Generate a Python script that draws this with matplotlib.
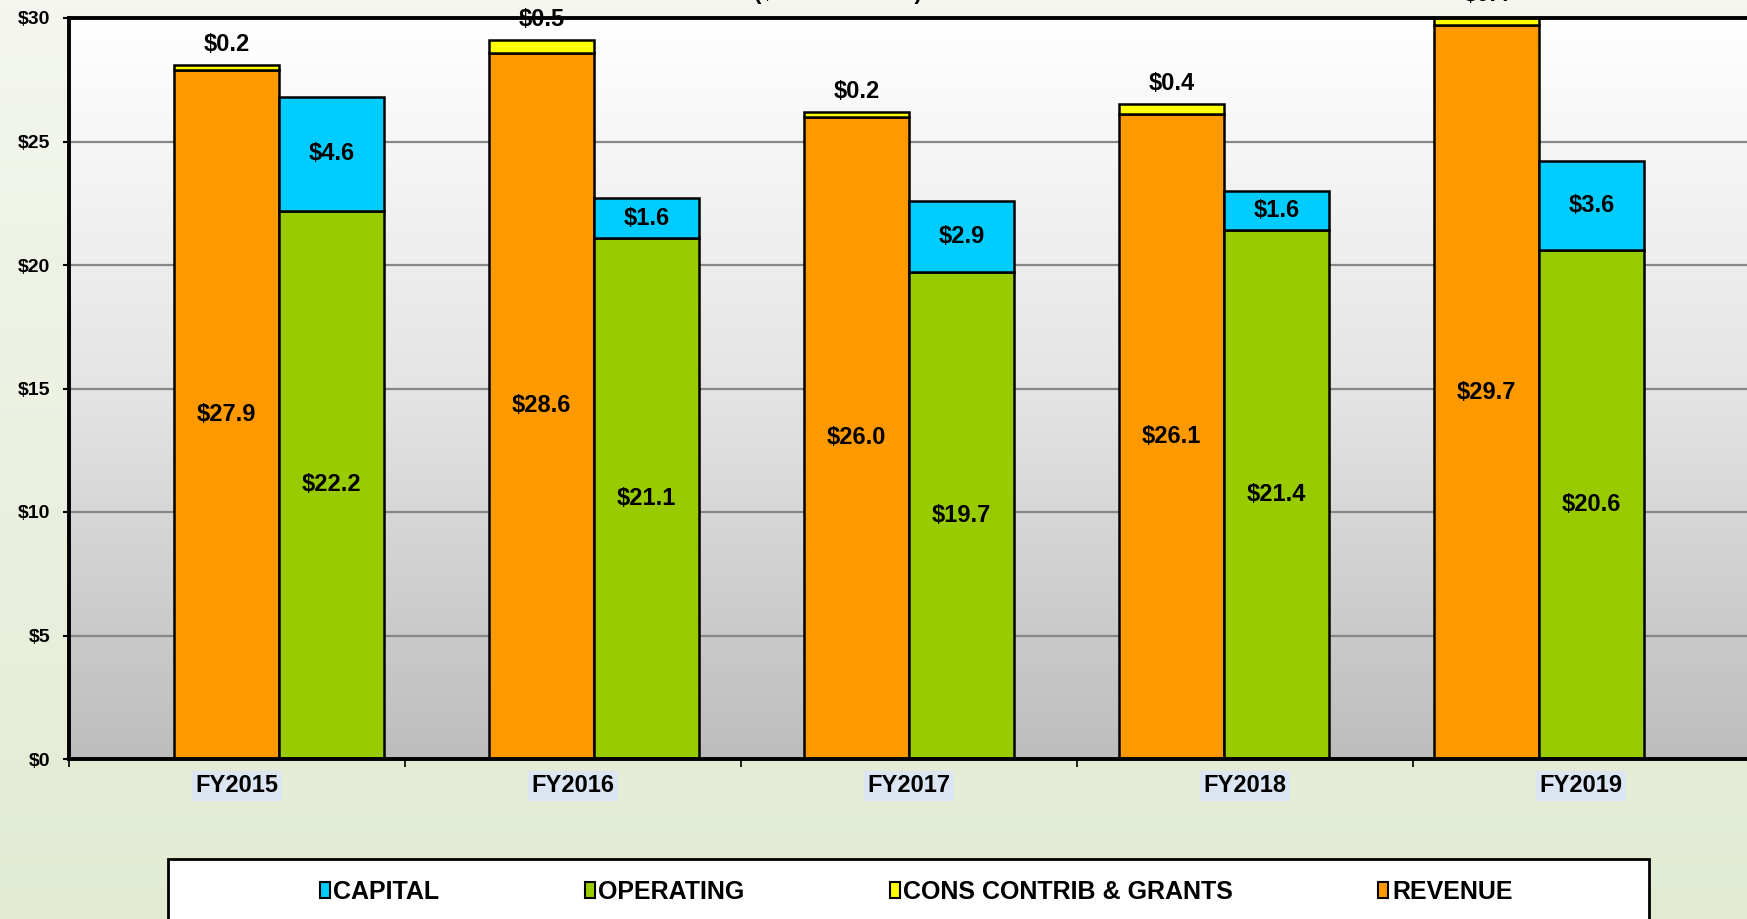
import numpy as np
import matplotlib.pyplot as plt
from matplotlib.patches import Patch, Rectangle
from matplotlib.colors import LinearSegmentedColormap

years = ['FY2015', 'FY2016', 'FY2017', 'FY2018', 'FY2019']
revenue = [27.9, 28.6, 26.0, 26.1, 29.7]
cons_contrib = [0.2, 0.5, 0.2, 0.4, 0.4]
operating = [22.2, 21.1, 19.7, 21.4, 20.6]
capital = [4.6, 1.6, 2.9, 1.6, 3.6]
y_ticks = [0, 5, 10, 15, 20, 25, 30]

ORANGE = '#FF9900'
YELLOW = '#FFFF00'
GREEN = '#99CC00'
CYAN = '#00CCFF'

plt.rcParams['font.family'] = ['Liberation Sans', 'DejaVu Sans']
plt.rcParams['font.weight'] = 'bold'

W, H = 1747, 919
fig = plt.figure(figsize=(W / 100, H / 100), dpi=100)

# pale green page background
bg = fig.add_axes([0, 0, 1, 1], zorder=-10)
bg.axis('off')
bg_cmap = LinearSegmentedColormap.from_list('page', ['#E2EBD2', '#F4F6EF'])
bg.imshow(np.linspace(0, 1, 256).reshape(-1, 1), cmap=bg_cmap, aspect='auto',
          origin='lower', extent=[0, 1, 0, 1])

left, top, bottom = 69, 18, 759
ax = fig.add_axes([left / W, 1 - bottom / H, (1749 - left) / W, (bottom - top) / H])
ax.set_facecolor('none')

# plot area fades from white at the top to grey at the bottom
grad = np.linspace(0, 1, 256).reshape(-1, 1)
area_cmap = LinearSegmentedColormap.from_list('area', ['#BDBDBD', '#E4E4E4', '#FFFFFF'])
ax.imshow(grad, cmap=area_cmap, aspect='auto', origin='lower', extent=[0, 1, 0, 1],
          transform=ax.transAxes, zorder=-1)

ax.set_axisbelow(True)
ax.yaxis.grid(True, color='#878787', lw=1.6)

# each category is 16 units wide, the column pairs repeat every 15
x = np.arange(len(years))
slot = 5
period = 15
rev_x = slot + period * x
ops_x = rev_x + slot
edge = dict(edgecolor='black', linewidth=1.8, align='edge', width=slot)

ax.bar(rev_x, revenue, color=ORANGE, **edge)
ax.bar(rev_x, cons_contrib, bottom=revenue, color=YELLOW, **edge)
ax.bar(ops_x, operating, color=GREEN, **edge)
ax.bar(ops_x, capital, bottom=operating, color=CYAN, **edge)

for i in range(len(years)):
    cx = rev_x[i] + slot / 2
    ax.text(cx, revenue[i] / 2, f'${revenue[i]:.1f}', ha='center', va='center', fontsize=17)
    ax.annotate(f'${cons_contrib[i]:.1f}', (cx, revenue[i] + cons_contrib[i]),
                xytext=(0, 15), textcoords='offset points', ha='center', va='center',
                fontsize=17, annotation_clip=False)
    ox = ops_x[i] + slot / 2
    ax.text(ox, operating[i] / 2, f'${operating[i]:.1f}', ha='center', va='center', fontsize=17)
    ax.text(ox, operating[i] + capital[i] / 2, f'${capital[i]:.1f}',
            ha='center', va='center', fontsize=17)

ax.set_xlim(0, 16 * len(years))
ax.set_ylim(0, 30)

ax.set_yticks(y_ticks)
ax.set_yticklabels([f'${v}' for v in y_ticks])
ax.tick_params(axis='y', direction='out', length=4.5, width=1.5, labelsize=14, pad=9)

ax.set_xticks(np.arange(0, 16 * len(years) + 1, 16))
ax.set_xticklabels([])
ax.set_xticks(8 + 16 * x, minor=True)
ax.set_xticklabels(years, minor=True)
ax.tick_params(axis='x', which='major', direction='out', length=6, width=1.2)
ax.tick_params(axis='x', which='minor', length=0, labelsize=17, pad=11)
for lbl in ax.get_xticklabels(minor=True):
    lbl.set_bbox(dict(boxstyle='square,pad=0.15', facecolor='#DCE6F2', edgecolor='none'))

for side in ['left', 'bottom', 'top']:
    ax.spines[side].set_linewidth(2.8)
    ax.spines[side].set_color('black')
ax.spines['right'].set_visible(False)

fig.text(838 / W, 1 + 1 / H, '($ IN MILLIONS)', ha='center', va='baseline', fontsize=16)

# legend box running off the bottom of the page
fig.add_artist(Rectangle((168 / W, -0.1), (1649 - 168) / W, 0.1 + 1 - 859 / H,
                         transform=fig.transFigure, facecolor='white',
                         edgecolor='black', linewidth=2))
handles = [Patch(facecolor=c, edgecolor='black', linewidth=1.5)
           for c in [CYAN, GREEN, YELLOW, ORANGE]]
names = ['CAPITAL', 'OPERATING', 'CONS CONTRIB & GRANTS', 'REVENUE']
fig.legend(handles, names, loc='center', bbox_to_anchor=(916 / W, 1 - 892 / H),
           ncol=4, frameon=False, fontsize=18, columnspacing=5.8,
           handlelength=0.4, handleheight=0.6, handletextpad=0.15)

fig.savefig('out.png', dpi=100)
